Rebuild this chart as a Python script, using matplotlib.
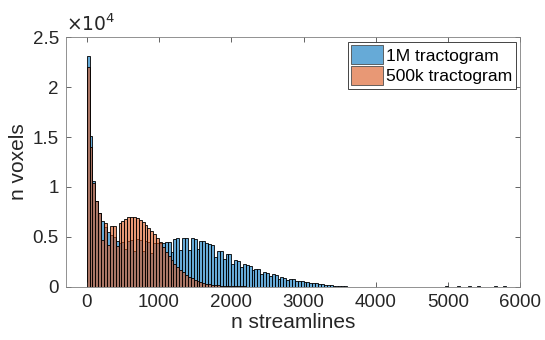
import numpy as np
import matplotlib
matplotlib.use("Agg")
import matplotlib.pyplot as plt

plt.rcParams['font.family'] = ['Liberation Sans', 'DejaVu Sans']

bin_width = 40

# voxel counts per streamline bin (bins start at 0, width 40)
counts_1m = [23100, 15100, 10600, 8600, 7400, 6600, 6000, 5500, 5200, 5000,
             4600, 4400, 4500, 3800, 4600, 4700, 3600, 4800, 4700, 3600,
             4600, 4500, 3400, 4400, 4350, 4350, 4400, 4500, 4500, 3500,
             4800, 4850, 3700, 4850, 4850, 3700, 4850, 4800, 3800, 4600,
             4600, 4400, 4300, 4200, 3000, 3600, 3600, 2800, 3300, 3300,
             2300, 2700, 2600, 2000, 2300, 2200, 2100, 1700, 1800, 1800,
             1300, 1500, 1400, 1100, 1300, 1200, 800, 1000, 900, 700,
             800, 750, 600, 600, 550, 500, 450, 400, 360, 320,
             280, 240, 200, 170, 140, 110, 90, 70, 50, 40]

# a few isolated voxels far out in the tail
tail_1m_start = [4960, 5120, 5280, 5400, 5640, 5760]
tail_1m_counts = [40, 20, 15, 35, 15, 20]

counts_500k = [22000, 14000, 10400, 8600, 7400, 4700, 6400, 4200, 6100, 6100,
               4100, 6400, 6600, 6800, 7000, 7000, 7000, 6900, 6700, 6500,
               6200, 5900, 5600, 5300, 4900, 4500, 4000, 3500, 3100, 2700,
               2300, 2000, 1700, 1450, 1200, 1000, 850, 700, 570, 460,
               370, 300, 240, 190, 150, 120, 100, 80, 60, 50,
               40, 30, 25, 20, 15, 10]

legend_labels = ["1M tractogram", "500k tractogram"]
x_ticks = [0, 1000, 2000, 3000, 4000, 5000, 6000]
y_ticks = [0, 5000, 10000, 15000, 20000, 25000]
y_tick_labels = ["0", "0.5", "1", "1.5", "2", "2.5"]

blue = (0.0, 0.447, 0.741)
orange = (0.85, 0.325, 0.098)
axis_gray = (0.15, 0.15, 0.15)

fig = plt.figure(figsize=(5.45, 3.4), dpi=100)
ax = fig.add_axes([0.1206, 0.157, 0.8344, 0.733])

starts_1m = np.concatenate([np.arange(len(counts_1m)) * bin_width, tail_1m_start])
heights_1m = np.concatenate([counts_1m, tail_1m_counts])
ax.bar(starts_1m, heights_1m, width=bin_width, align='edge',
       facecolor=blue + (0.6,), edgecolor='black', linewidth=0.6,
       label=legend_labels[0])

starts_500k = np.arange(len(counts_500k)) * bin_width
ax.bar(starts_500k, counts_500k, width=bin_width, align='edge',
       facecolor=orange + (0.6,), edgecolor='black', linewidth=0.6,
       label=legend_labels[1])

ax.set_xlim(-290, 6000)
ax.set_ylim(0, 25000)
ax.set_xticks(x_ticks)
ax.set_yticks(y_ticks)
ax.set_yticklabels(y_tick_labels)
ax.tick_params(direction='in', length=3.5, width=0.5, colors=axis_gray,
               labelsize=13.5, top=True, right=True, pad=5)
for s in ax.spines.values():
    s.set_linewidth(0.6)
    s.set_color((0.5, 0.5, 0.5))

ax.set_xlabel("n streamlines", fontsize=15, color=axis_gray, labelpad=2)
ax.set_ylabel("n voxels", fontsize=15, color=axis_gray, labelpad=3)
ax.text(0.0, 1.008, r"$\times10^{4}$", transform=ax.transAxes, fontsize=13.5,
        color=axis_gray, ha='left', va='bottom')

leg = ax.legend(loc='upper right', fontsize=12.6, fancybox=False, framealpha=1,
                edgecolor=axis_gray, borderpad=0.2, handlelength=1.8,
                handleheight=1.3, handletextpad=0.2, labelspacing=0.1,
                borderaxespad=0.25)
leg.get_frame().set_linewidth(0.6)
for h in leg.legend_handles:
    h.set_edgecolor((0.3, 0.3, 0.3))

fig.savefig("out.png", dpi=100)
